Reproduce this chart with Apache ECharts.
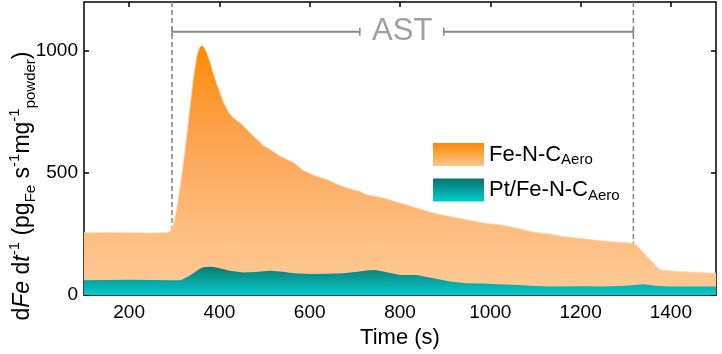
<!DOCTYPE html>
<html>
<head>
<meta charset="utf-8">
<script src="https://cdn.jsdelivr.net/npm/echarts@6/dist/echarts.min.js"></script>
<style>
  html, body { margin: 0; padding: 0; background: #fff; }
  #main { width: 722px; height: 354px; }
</style>
</head>
<body>
<div id="main"></div>
<script>
// Fe dissolution rate
var timeFe = [100, 150, 200, 250, 285, 292, 298, 305, 315, 324, 335, 342, 350, 356, 361, 366, 372, 380, 386, 395, 401, 409, 420, 431, 446, 468, 497, 512, 534, 564, 586, 610, 638, 660, 682, 711, 726, 763, 800, 837, 874, 911, 948, 985, 1022, 1059, 1095, 1132, 1162, 1200, 1236, 1275, 1310, 1324, 1347, 1376, 1420, 1460, 1500];
var rateFe = [255, 256, 255, 254, 256, 262, 290, 350, 470, 597, 775, 885, 981, 1015, 1022, 1015, 994, 950, 912, 860, 830, 790, 750, 725, 705, 665, 612, 597, 569, 543, 510, 490, 473, 455, 439, 425, 411, 398, 377, 357, 336, 322, 309, 295, 288, 274, 258, 250, 240, 232, 224, 218, 213, 205, 158, 103, 96, 93, 89];

var timePt = [100, 150, 200, 250, 290, 314, 330, 342, 355, 364, 380, 394, 423, 453, 480, 512, 540, 564, 601, 640, 675, 711, 726, 745, 763, 800, 837, 874, 911, 948, 985, 1020, 1059, 1100, 1132, 1200, 1250, 1300, 1339, 1370, 1400, 1450, 1500];
var ratePt = [60, 61, 62, 61, 60, 60, 75, 89, 105, 114, 116, 113, 99, 92, 94, 99, 95, 89, 86, 87, 89, 96, 100, 102, 96, 82, 82, 69, 55, 48, 47, 44, 41, 37, 35, 36, 35, 38, 44, 37, 35, 35, 35];

var seriesNames = ['Fe-N-C', 'Pt/Fe-N-C'];
var xTicks = [200, 400, 600, 800, 1000, 1200, 1400];
var yTicks = [0, 500, 1000];

// AST window
var astBounds = [295, 1317];
var astLeftBar = [295, 711];
var astRightBar = [897, 1317];
var astLevel = 1078;
var astLabelX = 805;

function pairs(xs, ys) {
  var out = [];
  for (var i = 0; i < xs.length; i++) {
    out.push([xs[i], ys[i]]);
  }
  return out;
}

function vGrad(stops) {
  return new echarts.graphic.LinearGradient(0, 0, 0, 1, stops);
}

function guideLine(x) {
  return {
    type: 'line',
    z: 1,
    silent: true,
    symbol: 'none',
    data: [[x, 0], [x, 1200]],
    lineStyle: { color: '#848484', width: 1.5, type: [5, 3] }
  };
}

var chart = echarts.init(document.getElementById('main'), null, { renderer: 'canvas' });

var axisCommon = {
  axisLine: { show: true, onZero: false, lineStyle: { color: '#000', width: 1.5 } },
  splitLine: { show: false }
};

var option = {
  animation: false,
  backgroundColor: '#fff',
  grid: { left: 84, right: 6, top: 2, bottom: 59 },
  legend: {
    left: 428,
    top: 138,
    orient: 'vertical',
    itemWidth: 51,
    itemHeight: 23,
    itemGap: 11,
    icon: 'rect',
    data: [
      { name: seriesNames[0], itemStyle: { color: vGrad([{ offset: 0, color: '#FF8800' }, { offset: 1, color: '#FFC68C' }]) } },
      { name: seriesNames[1], itemStyle: { color: vGrad([{ offset: 0, color: '#06736E' }, { offset: 1, color: '#00CECE' }]) } }
    ],
    formatter: function (name) {
      return '{n|' + name + '}{s|Aero}';
    },
    textStyle: {
      color: '#000',
      fontFamily: 'Liberation Sans',
      rich: {
        n: { fontSize: 22, fontFamily: 'Liberation Sans', color: '#000', lineHeight: 26 },
        s: { fontSize: 15, fontFamily: 'Liberation Sans', color: '#000', verticalAlign: 'bottom', padding: [10, 0, 0, 0] }
      }
    }
  },
  xAxis: [
    Object.assign({}, axisCommon, {
      type: 'value',
      min: 100,
      max: 1500,
      interval: 200,
      position: 'bottom',
      name: 'Time (s)',
      nameLocation: 'middle',
      nameGap: 27,
      nameTextStyle: { fontSize: 22, color: '#000', fontFamily: 'Liberation Sans' },
      axisLabel: {
        margin: 8,
        fontSize: 19,
        color: '#000',
        fontFamily: 'Liberation Sans',
        customValues: xTicks,
        formatter: function (v) { return String(v); }
      },
      axisTick: { show: true, inside: true, length: 5, customValues: xTicks, lineStyle: { color: '#000', width: 1.5 } }
    }),
    Object.assign({}, axisCommon, {
      type: 'value',
      min: 100,
      max: 1500,
      position: 'top',
      axisLabel: { show: false },
      axisTick: { show: true, inside: true, length: 5, customValues: xTicks, lineStyle: { color: '#000', width: 1.5 } }
    })
  ],
  yAxis: [
    Object.assign({}, axisCommon, {
      type: 'value',
      min: 0,
      max: 1200,
      position: 'left',
      axisLabel: {
        margin: 6,
        fontSize: 19,
        color: '#000',
        fontFamily: 'Liberation Sans',
        customValues: yTicks,
        formatter: function (v) { return String(v); }
      },
      axisTick: { show: true, inside: true, length: 5, customValues: yTicks, lineStyle: { color: '#000', width: 1.5 } }
    }),
    Object.assign({}, axisCommon, {
      type: 'value',
      min: 0,
      max: 1200,
      position: 'right',
      axisLabel: { show: false },
      axisTick: { show: true, inside: true, length: 5, customValues: yTicks, lineStyle: { color: '#000', width: 1.5 } }
    })
  ],
  graphic: [
    {
      type: 'text',
      x: 23,
      y: 186,
      rotation: Math.PI / 2,
      style: {
        text: '{n|d}{i|Fe}{n| d}{i|t}{p|-1}{n| (pg}{b|Fe}{n| s}{p|-1}{n|mg}{p|-1}{b|powder}{n|)}',
        align: 'center',
        verticalAlign: 'middle',
        fill: '#000',
        rich: {
          n: { fontSize: 23, fontFamily: 'Liberation Sans', lineHeight: 31 },
          i: { fontSize: 23, fontFamily: 'Liberation Sans', fontStyle: 'italic', lineHeight: 31 },
          p: { fontSize: 15, fontFamily: 'Liberation Sans', verticalAlign: 'top', padding: [0, 0, 8, 0] },
          b: { fontSize: 15, fontFamily: 'Liberation Sans', verticalAlign: 'bottom', padding: [8, 0, 0, 0] }
        }
      }
    }
  ],
  series: [
    // dashed AST start / end guides, kept behind the areas
    guideLine(astBounds[0]),
    guideLine(astBounds[1]),
    {
      name: seriesNames[0],
      type: 'line',
      z: 2,
      showSymbol: false,
      symbol: 'none',
      data: pairs(timeFe, rateFe),
      lineStyle: { width: 1, color: 'rgba(255, 220, 185, 0.8)' },
      areaStyle: {
        opacity: 1,
        color: vGrad([
          { offset: 0, color: '#FF8A00' },
          { offset: 0.35, color: '#FCA24E' },
          { offset: 0.72, color: '#FDBC7E' },
          { offset: 1, color: '#FFCA96' }
        ])
      }
    },
    {
      name: seriesNames[1],
      type: 'line',
      z: 3,
      showSymbol: false,
      symbol: 'none',
      data: pairs(timePt, ratePt),
      lineStyle: { width: 0 },
      areaStyle: {
        opacity: 1,
        color: vGrad([
          { offset: 0, color: '#087A75' },
          { offset: 0.5, color: '#0AA39F' },
          { offset: 1, color: '#00CDCD' }
        ])
      }
    },
    {
      name: 'ast-left',
      type: 'line',
      z: 4,
      data: [[astLeftBar[0], astLevel], [astLeftBar[1], astLevel]],
      symbol: 'rect',
      symbolSize: [1.5, 8],
      itemStyle: { color: '#888' },
      lineStyle: { color: '#888', width: 2 }
    },
    {
      name: 'ast-right',
      type: 'line',
      z: 4,
      data: [[astRightBar[0], astLevel], [astRightBar[1], astLevel]],
      symbol: 'rect',
      symbolSize: [1.5, 8],
      itemStyle: { color: '#888' },
      lineStyle: { color: '#888', width: 2 }
    },
    {
      name: 'ast-label',
      type: 'scatter',
      z: 4,
      symbolSize: 0,
      data: [[astLabelX, astLevel]],
      label: {
        show: true,
        position: 'inside',
        formatter: 'AST',
        fontSize: 31,
        color: '#888',
        fontFamily: 'Liberation Sans'
      }
    }
  ]
};

chart.setOption(option);
</script>
</body>
</html>
